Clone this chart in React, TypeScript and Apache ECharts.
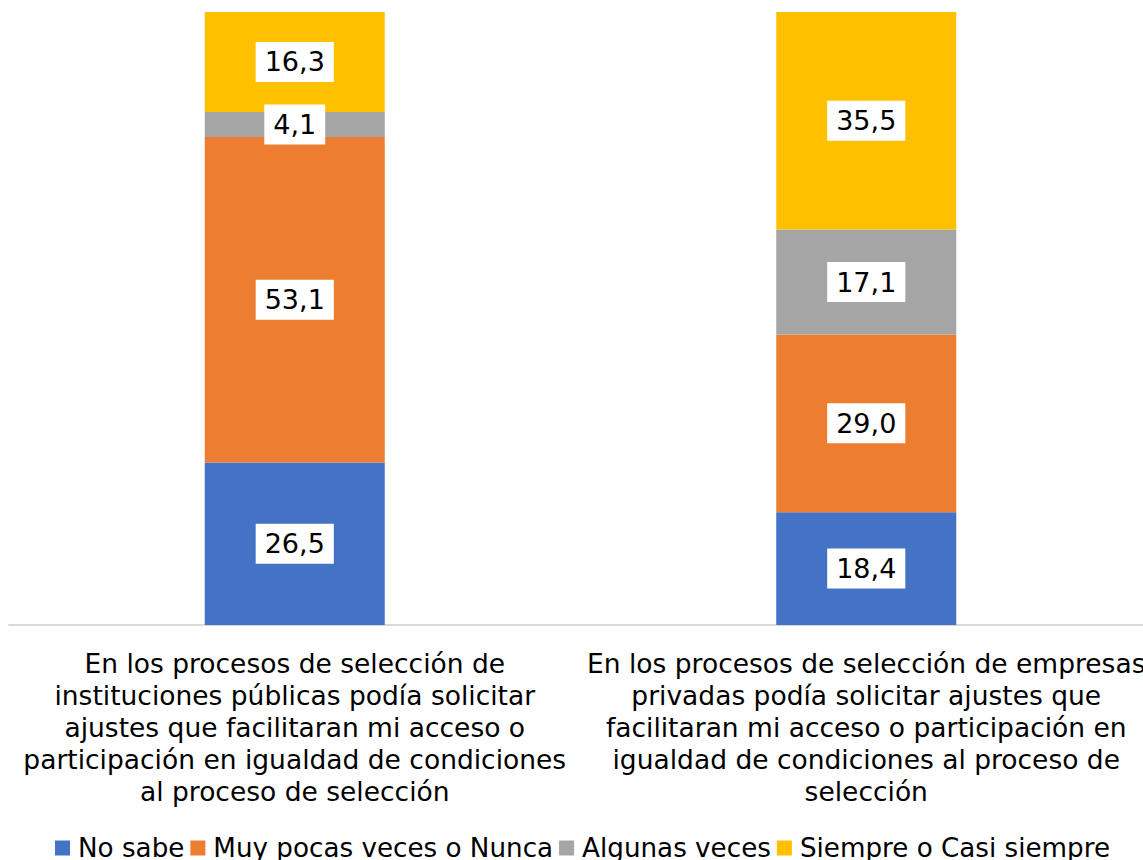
import React, { useEffect, useRef } from "react";
import * as echarts from "echarts";

const categories = [
  "En los procesos de selección de\ninstituciones públicas podía solicitar\najustes que facilitaran mi acceso o\nparticipación en igualdad de condiciones\nal proceso de selección",
  "En los procesos de selección de empresas\nprivadas podía solicitar ajustes que\nfacilitaran mi acceso o participación en\nigualdad de condiciones al proceso de\nselección",
];
const seriesNames = ["No sabe", "Muy pocas veces o Nunca", "Algunas veces", "Siempre o Casi siempre"];
const noSabe = [26.5, 18.4];
const muyPocas = [53.1, 29.0];
const algunas = [4.1, 17.1];
const siempre = [16.3, 35.5];
const colors = ["#4472C4", "#ED7D31", "#A5A5A5", "#FFC000"];

const FONT = "DejaVu Sans";

export default function App() {
  const ref = useRef<HTMLDivElement>(null);
  useEffect(() => {
    if (!ref.current) return;
    const chart = echarts.init(ref.current, null, { renderer: "svg" });
    const values = [noSabe, muyPocas, algunas, siempre];
    chart.setOption({
      animation: false,
      color: colors,
      grid: { left: 9, top: 12, width: 1143, height: 613, containLabel: false },
      legend: {
        left: 50,
        top: 830,
        itemWidth: 15,
        itemHeight: 15,
        itemGap: 6,
        icon: "rect",
        textStyle: { fontFamily: FONT, fontSize: 26.2, color: "#000", padding: [0, 0, 0, 3] },
        data: seriesNames,
      },
      xAxis: {
        type: "category",
        data: categories,
        axisLine: { lineStyle: { color: "#D9D9D9", width: 2 } },
        axisTick: { show: false },
        axisLabel: {
          interval: 0,
          margin: 22,
          fontFamily: FONT,
          fontSize: 26.5,
          lineHeight: 32,
          color: "#000",
          align: "center",
        },
      },
      yAxis: {
        type: "value",
        min: 0,
        max: 100,
        show: false,
        splitLine: { show: false },
      },
      series: seriesNames.map((name, i) => ({
        name,
        type: "bar",
        stack: "total",
        barWidth: 180,
        data: values[i],
        itemStyle: { color: colors[i] },
        label: {
          show: true,
          position: "inside",
          formatter: (p: any) => p.value.toFixed(1).replace(".", ","),
          backgroundColor: "#FFFFFF",
          padding: [7, 9, 6, 9],
          color: "#000",
          fontFamily: FONT,
          fontSize: 27,
        },
      })),
    });
    return () => chart.dispose();
  }, []);
  return (
    <div
      ref={ref}
      style={{ position: "absolute", left: 0, top: 0, width: 1160, height: 860, overflow: "hidden" }}
    />
  );
}
